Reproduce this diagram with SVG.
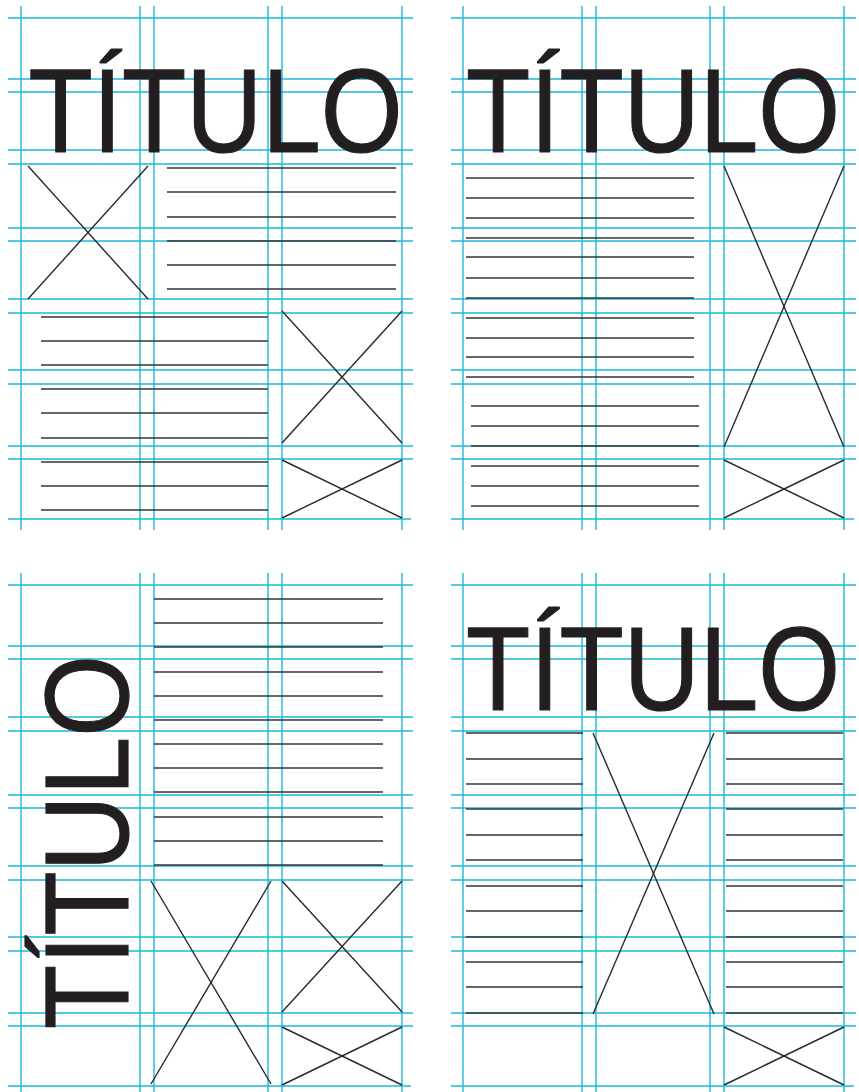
<svg xmlns="http://www.w3.org/2000/svg" width="859" height="1092" viewBox="0 0 859 1092">
<style>
.g{stroke:#1bb8d9;stroke-width:1.4;fill:none}
.t{stroke:#333;stroke-width:1.5;fill:none}
.x{stroke:#2a2a2a;stroke-width:1.4;fill:none}
.title{font-family:"Liberation Sans",Arial,sans-serif;font-size:119px;fill:#231f20;stroke:#231f20;stroke-width:1.2}
</style>
<rect width="859" height="1092" fill="#fff"/>
<defs>
<g id="hgrid">
<line x1="0" y1="18" x2="405" y2="18"/><line x1="0" y1="79" x2="405" y2="79"/><line x1="0" y1="92" x2="405" y2="92"/>
<line x1="0" y1="150" x2="405" y2="150"/><line x1="0" y1="164" x2="405" y2="164"/><line x1="0" y1="228" x2="405" y2="228"/>
<line x1="0" y1="241" x2="405" y2="241"/><line x1="0" y1="299" x2="405" y2="299"/><line x1="0" y1="313" x2="405" y2="313"/>
<line x1="0" y1="370" x2="405" y2="370"/><line x1="0" y1="384" x2="405" y2="384"/><line x1="0" y1="446" x2="405" y2="446"/>
<line x1="0" y1="459" x2="405" y2="459"/><line x1="0" y1="519" x2="403" y2="519"/>
</g>
<g id="vgrid">
<line x1="13" y1="0" x2="13" y2="524"/><line x1="132" y1="0" x2="132" y2="524"/><line x1="146" y1="0" x2="146" y2="524"/>
<line x1="260" y1="0" x2="260" y2="524"/><line x1="274" y1="0" x2="274" y2="524"/><line x1="394" y1="0" x2="394" y2="524"/>
</g>
</defs>

<g id="panel-top-left">
<g class="g"><use href="#hgrid" x="8" y="0"/><use href="#vgrid" x="8" y="6"/></g>
<text class="title" transform="translate(28.6,152) scale(0.884,1)" x="0" y="0">TÍTULO</text>
<g class="x"><line x1="28" y1="166" x2="148" y2="299"/><line x1="148" y1="166" x2="28" y2="299"/></g>
<g class="t">
<line x1="167" y1="168" x2="396" y2="168"/><line x1="167" y1="192" x2="396" y2="192"/><line x1="167" y1="217" x2="396" y2="217"/>
<line x1="167" y1="241" x2="396" y2="241"/><line x1="167" y1="265" x2="396" y2="265"/><line x1="167" y1="289" x2="396" y2="289"/>
<line x1="41" y1="317" x2="268" y2="317"/><line x1="41" y1="341" x2="268" y2="341"/><line x1="41" y1="365" x2="268" y2="365"/>
<line x1="41" y1="389" x2="268" y2="389"/><line x1="41" y1="413" x2="268" y2="413"/><line x1="41" y1="438" x2="268" y2="438"/>
<line x1="41" y1="462" x2="268" y2="462"/><line x1="41" y1="486" x2="268" y2="486"/><line x1="41" y1="510" x2="268" y2="510"/>
</g>
<g class="x">
<line x1="282" y1="311" x2="402" y2="443"/><line x1="402" y1="311" x2="282" y2="443"/>
<line x1="282" y1="460" x2="402" y2="518"/><line x1="402" y1="460" x2="282" y2="518"/>
</g>
</g>

<g id="panel-top-right">
<g class="g"><use href="#hgrid" x="451" y="0"/><use href="#vgrid" x="450" y="6"/></g>
<text class="title" transform="translate(466,152) scale(0.884,1)" x="0" y="0">TÍTULO</text>
<g class="t">
<line x1="466" y1="178" x2="694" y2="178"/><line x1="466" y1="198" x2="694" y2="198"/><line x1="466" y1="218" x2="694" y2="218"/>
<line x1="466" y1="238" x2="694" y2="238"/><line x1="466" y1="257" x2="694" y2="257"/><line x1="466" y1="278" x2="694" y2="278"/>
<line x1="466" y1="298" x2="694" y2="298"/><line x1="466" y1="318" x2="694" y2="318"/><line x1="466" y1="338" x2="694" y2="338"/>
<line x1="466" y1="357" x2="694" y2="357"/><line x1="466" y1="377" x2="694" y2="377"/>
<line x1="471" y1="406" x2="699" y2="406"/><line x1="471" y1="426" x2="699" y2="426"/><line x1="471" y1="446" x2="699" y2="446"/>
<line x1="471" y1="466" x2="699" y2="466"/><line x1="471" y1="486" x2="699" y2="486"/><line x1="471" y1="506" x2="699" y2="506"/>
</g>
<g class="x">
<line x1="724" y1="166" x2="844" y2="447"/><line x1="844" y1="166" x2="724" y2="447"/>
<line x1="724" y1="460" x2="844" y2="518"/><line x1="844" y1="460" x2="724" y2="518"/>
</g>
</g>

<g id="panel-bottom-left">
<g class="g"><use href="#hgrid" x="8" y="567"/><use href="#vgrid" x="8" y="573"/></g>
<text class="title" transform="translate(127.5,1029) rotate(-90) scale(0.884,1)" x="0" y="0">TÍTULO</text>
<g class="t">
<line x1="154" y1="599" x2="383" y2="599"/><line x1="154" y1="623" x2="383" y2="623"/><line x1="154" y1="647" x2="383" y2="647"/>
<line x1="154" y1="672" x2="383" y2="672"/><line x1="154" y1="696" x2="383" y2="696"/><line x1="154" y1="720" x2="383" y2="720"/>
<line x1="154" y1="744" x2="383" y2="744"/><line x1="154" y1="768" x2="383" y2="768"/><line x1="154" y1="792" x2="383" y2="792"/>
<line x1="154" y1="817" x2="383" y2="817"/><line x1="154" y1="841" x2="383" y2="841"/><line x1="154" y1="865" x2="383" y2="865"/>
</g>
<g class="x">
<line x1="151" y1="881" x2="271" y2="1084"/><line x1="271" y1="881" x2="151" y2="1084"/>
<line x1="282" y1="881" x2="402" y2="1012"/><line x1="402" y1="881" x2="282" y2="1012"/>
<line x1="282" y1="1027" x2="402" y2="1085"/><line x1="402" y1="1027" x2="282" y2="1085"/>
</g>
</g>

<g id="panel-bottom-right">
<g class="g"><use href="#hgrid" x="451" y="567"/><use href="#vgrid" x="450" y="573"/></g>
<text class="title" transform="translate(466,710) scale(0.884,1)" x="0" y="0">TÍTULO</text>
<g class="t">
<line x1="466" y1="733" x2="583" y2="733"/><line x1="466" y1="759" x2="583" y2="759"/><line x1="466" y1="784" x2="583" y2="784"/>
<line x1="466" y1="809" x2="583" y2="809"/><line x1="466" y1="835" x2="583" y2="835"/><line x1="466" y1="860" x2="583" y2="860"/>
<line x1="466" y1="886" x2="583" y2="886"/><line x1="466" y1="911" x2="583" y2="911"/><line x1="466" y1="937" x2="583" y2="937"/>
<line x1="466" y1="962" x2="583" y2="962"/><line x1="466" y1="987" x2="583" y2="987"/><line x1="466" y1="1013" x2="583" y2="1013"/>
<line x1="726" y1="733" x2="843" y2="733"/><line x1="726" y1="759" x2="843" y2="759"/><line x1="726" y1="784" x2="843" y2="784"/>
<line x1="726" y1="809" x2="843" y2="809"/><line x1="726" y1="835" x2="843" y2="835"/><line x1="726" y1="860" x2="843" y2="860"/>
<line x1="726" y1="886" x2="843" y2="886"/><line x1="726" y1="911" x2="843" y2="911"/><line x1="726" y1="937" x2="843" y2="937"/>
<line x1="726" y1="962" x2="843" y2="962"/><line x1="726" y1="987" x2="843" y2="987"/><line x1="726" y1="1013" x2="843" y2="1013"/>
</g>
<g class="x">
<line x1="593" y1="733" x2="714" y2="1014"/><line x1="714" y1="733" x2="593" y2="1014"/>
<line x1="724" y1="1027" x2="844" y2="1085"/><line x1="844" y1="1027" x2="724" y2="1085"/>
</g>
</g>
</svg>
